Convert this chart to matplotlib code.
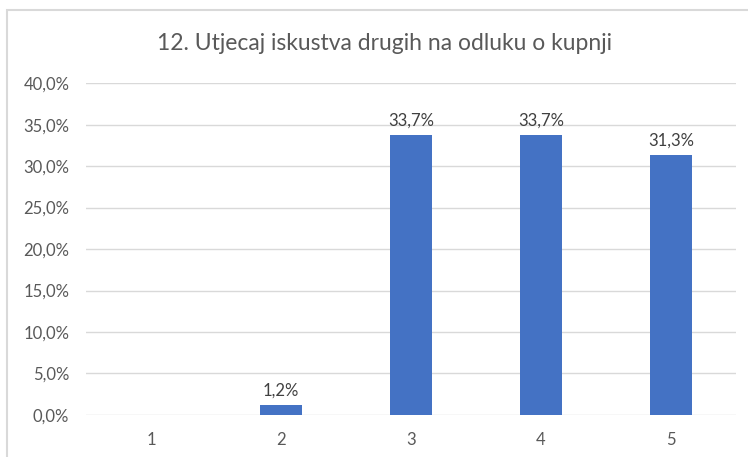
import matplotlib.pyplot as plt
from matplotlib.patches import Rectangle
from matplotlib.ticker import FuncFormatter

categories = ["1", "2", "3", "4", "5"]
values = [0.0, 1.2, 33.7, 33.7, 31.3]
bar_labels = ["", "1,2%", "33,7%", "33,7%", "31,3%"]
title = "12. Utjecaj iskustva drugih na odluku o kupnji"

plt.rcParams["font.family"] = ["Lato", "DejaVu Sans"]

fig = plt.figure(figsize=(7.48, 4.57), dpi=100)
ax = fig.add_axes([86 / 748, 0.092, 650 / 748, 0.726])

# chart border like the Excel frame (cut at right and bottom)
fig.patches.append(Rectangle((7 / 748, -0.1), 1.2, 1.1 - 10 / 457,
                             transform=fig.transFigure, fill=False,
                             edgecolor="#D9D9D9", linewidth=1.5))

x = range(len(categories))
ax.bar(x, values, width=0.32, color="#4472C4", zorder=3)

for xi, v, lab in zip(x, values, bar_labels):
    if lab:
        ax.text(xi, v + 0.8, lab, ha="center", va="bottom",
                fontsize=12, color="#404040")

ax.set_xlim(-0.5, len(categories) - 0.5)
ax.set_ylim(0, 40)
ax.set_yticks(range(0, 41, 5))
ax.yaxis.set_major_formatter(FuncFormatter(lambda v, p: f"{v:.1f}%".replace(".", ",")))
ax.set_xticks(list(x))
ax.set_xticklabels(categories)

ax.grid(axis="y", color="#D9D9D9", linewidth=1, zorder=0)
for s in ax.spines.values():
    s.set_visible(False)
ax.tick_params(length=0, labelsize=12, colors="#595959")
ax.tick_params(axis="y", pad=12)
ax.tick_params(axis="x", pad=12)

fig.text(384 / 748, 1 - 44 / 457, title, ha="center", va="center",
         fontsize=16.5, color="#595959")

fig.savefig("out.png", dpi=100)
